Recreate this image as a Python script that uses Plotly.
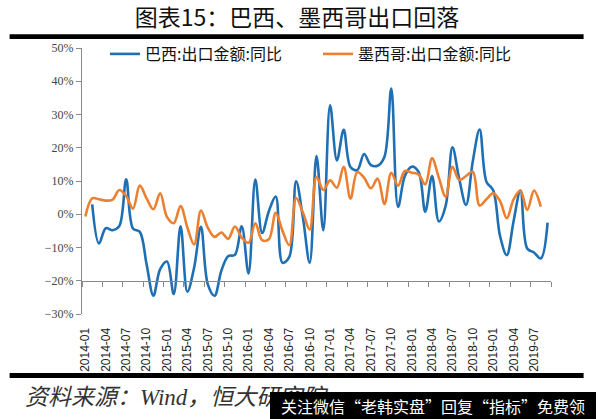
import plotly.graph_objects as go

# ---- data ----
months = [f"{y}-{m:02d}" for y in range(2014, 2020) for m in range(1, 13)][:69]
tick_labels = months[::3]

brazil = [None, 3.0, -8.8, -4.2, -4.8, -3.5, 10.5, -4.3, -5.3, -15.0,
          -24.5, -16.5, -14.2, -24.0, -3.6, -23.3, -16.0, -3.8, -21.0, -24.5,
          -17.0, -12.6, -12.2, -3.6, -17.8, 10.4, -5.6, 1.0, 5.3, -14.6,
          -12.8, 9.9, -1.0, -14.6, 17.5, -4.8, 32.8, 16.2, 25.4, 14.2,
          13.3, 18.1, 14.8, 14.6, 17.3, 37.8, 2.2, 11.5, 14.3, 12.8,
          0.8, 11.5, -2.2, 2.5, 20.1, 10.6, 2.8, 16.0, 25.5, 9.8,
          7.2, -6.5, -12.3, -2.0, 7.1, -10.3, -11.5, -13.3, -2.5]

mexico = [-0.7, 4.8, 4.5, 4.1, 4.4, 7.3, 5.5, 1.7, 8.6, 4.8,
          1.5, 6.3, -0.8, -2.7, 2.5, -4.0, -9.1, 1.1, -4.0, -6.8,
          -5.5, -7.4, -3.7, -7.0, -8.6, -2.7, -7.8, -7.5, 0.4, -5.0,
          -9.3, 4.9, 0.5, -4.6, 11.3, 7.3, 10.2, 8.0, 14.3, 4.7,
          12.7, 11.0, 7.8, 10.7, 3.1, 12.5, 8.6, 13.0, 12.5, 12.0,
          9.0, 16.8, 11.0, 5.3, 14.3, 10.3, 11.5, 12.8, 2.6, 4.5,
          6.3, 4.0, -1.2, 4.5, 7.1, 1.3, 7.1, 2.3, None]

names = ["巴西:出口金额:同比", "墨西哥:出口金额:同比"]
colors = ["#1F6FB4", "#EC8030"]

# ---- figure ----
W, H = 600, 419
ML, MR, MT, MB = 82, 49, 48, 105
pw, ph = W - ML - MR, H - MT - MB

def px_x(p):
    return (p - ML) / pw

def px_y(p):
    return (H - MB - p) / ph

fig = go.Figure()
for vals, nm, col in zip([brazil, mexico], names, colors):
    fig.add_trace(go.Scatter(x=months, y=vals, name=nm, mode="lines",
                             line=dict(color=col, width=2.6, shape="spline", smoothing=1.0),
                             connectgaps=False))

n = len(months)
fig.update_layout(
    width=W, height=H,
    margin=dict(l=ML, r=MR, t=MT, b=MB),
    paper_bgcolor="white", plot_bgcolor="white",
    title=dict(text="图表15：巴西、墨西哥出口回落", x=0.495, xanchor="center",
               y=1 - 18 / H, yanchor="middle",
               font=dict(family="Noto Sans CJK SC", size=23, color="#111")),
    showlegend=True,
    legend=dict(orientation="h", x=px_x(105), y=px_y(54), xanchor="left", yanchor="middle",
                font=dict(family="Noto Sans CJK SC", size=16, color="#111"),
                bgcolor="rgba(0,0,0,0)", entrywidth=168, entrywidthmode="pixels",
                itemwidth=30),
    xaxis=dict(type="category", categoryorder="array", categoryarray=months,
               range=[-0.5, n - 0.5], tickmode="array", tickvals=tick_labels,
               ticktext=tick_labels, tickangle=-90, showline=False, showgrid=False,
               zeroline=False, ticks="outside", ticklen=8, tickcolor="rgba(0,0,0,0)",
               tickfont=dict(family="Liberation Sans", size=12, color="#222")),
    xaxis2=dict(type="linear", overlaying="x", anchor="free", position=0.125,
                range=[-0.5, n - 0.5], tickmode="array",
                tickvals=[-0.5 + 3 * k for k in range(n // 3 + 1)],
                showticklabels=False, showline=True, linecolor="#8a8a8a", linewidth=1.3,
                ticks="outside", ticklen=5, tickcolor="#8a8a8a", tickwidth=1.3,
                showgrid=False, zeroline=False),
    yaxis=dict(range=[-30, 50], dtick=10, ticksuffix="%", showline=True,
               linecolor="#8a8a8a", linewidth=1.3, ticks="outside", ticklen=5,
               tickcolor="#8a8a8a", tickwidth=1.3, showgrid=False, zeroline=False,
               tickfont=dict(family="Liberation Serif", size=12, color="#444")),
)

# hidden helper trace so the second axis is drawn
fig.add_trace(go.Scatter(x=[None], y=[None], xaxis="x2", yaxis="y", showlegend=False,
                         hoverinfo="skip"))

# black rules
for y0, y1 in [(34.3, 39.0), (373.0, 378.0)]:
    fig.add_shape(type="rect", xref="paper", yref="paper",
                  x0=px_x(9.6), x1=px_x(583.6), y0=px_y(y1), y1=px_y(y0),
                  fillcolor="black", line=dict(width=0), layer="above")

fig.add_annotation(text="<i>资料来源：Wind，恒大研究院</i>", xref="paper", yref="paper",
                   x=px_x(23), y=px_y(397), xanchor="left", yanchor="middle",
                   showarrow=False,
                   font=dict(family="Liberation Serif, Noto Sans CJK SC", size=23, color="#333"))

fig.add_annotation(text="关注微信“老韩实盘”回复“指标”免费领", xref="paper", yref="paper",
                   x=px_x(270), y=px_y(419), xanchor="left", yanchor="bottom",
                   showarrow=False, bgcolor="black", width=326, height=27,
                   borderpad=0, borderwidth=0, align="center",
                   font=dict(family="Noto Sans CJK SC", size=16, color="white"))

fig.write_html("out.html", config={"displayModeBar": False},
               post_script="document.body.style.margin='0';")
